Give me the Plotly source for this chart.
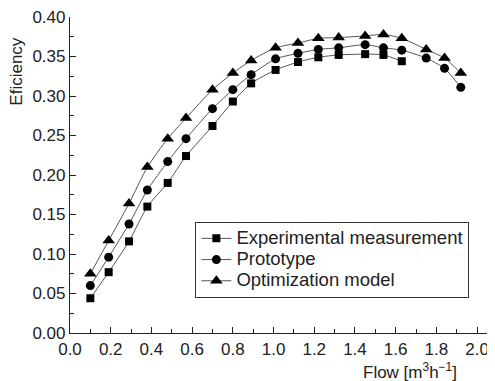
import plotly.graph_objects as go

# Data
flow_exp = [0.10, 0.19, 0.29, 0.38, 0.48, 0.57, 0.70, 0.80, 0.89, 1.01, 1.12, 1.22, 1.32, 1.45, 1.54, 1.63]
eff_exp = [0.044, 0.077, 0.116, 0.160, 0.190, 0.224, 0.262, 0.293, 0.316, 0.333, 0.343, 0.349, 0.352, 0.353, 0.352, 0.344]

flow_proto = [0.10, 0.19, 0.29, 0.38, 0.48, 0.57, 0.70, 0.80, 0.89, 1.01, 1.12, 1.22, 1.32, 1.45, 1.54, 1.63, 1.75, 1.84, 1.92]
eff_proto = [0.060, 0.096, 0.138, 0.181, 0.217, 0.246, 0.284, 0.308, 0.327, 0.347, 0.354, 0.359, 0.361, 0.365, 0.361, 0.358, 0.348, 0.335, 0.311]

flow_opt = [0.10, 0.19, 0.29, 0.38, 0.48, 0.57, 0.70, 0.80, 0.89, 1.01, 1.12, 1.22, 1.32, 1.45, 1.54, 1.63, 1.75, 1.84, 1.92]
eff_opt = [0.075, 0.117, 0.164, 0.210, 0.246, 0.272, 0.308, 0.329, 0.345, 0.361, 0.367, 0.373, 0.374, 0.376, 0.378, 0.373, 0.359, 0.348, 0.329]

series_names = ["Experimental measurement", "Prototype", "Optimization model"]

FONT = "Liberation Sans, Arial, sans-serif"
line_style = dict(color="#555555", width=1, shape="spline", smoothing=0.6)


def legend_label(s):
    return '<span style="font-size:18.5px">' + s + '</span>'


fig = go.Figure()
fig.add_trace(go.Scatter(x=flow_exp, y=eff_exp, mode="lines+markers", name=legend_label(series_names[0]),
                         line=line_style, marker=dict(symbol="square", size=8, color="black")))
fig.add_trace(go.Scatter(x=flow_proto, y=eff_proto, mode="lines+markers", name=legend_label(series_names[1]),
                         line=line_style, marker=dict(symbol="circle", size=9, color="black")))
fig.add_trace(go.Scatter(x=flow_opt, y=eff_opt, mode="lines+markers", name=legend_label(series_names[2]),
                         line=line_style, marker=dict(symbol="triangle-up", size=11, color="black")))

# The page body has an 8px margin, so the figure is sized to fit the 495x381 window.
fig.update_layout(
    width=487, height=373,
    margin=dict(l=62, r=0, t=7, b=48),
    paper_bgcolor="white", plot_bgcolor="white",
    font=dict(family=FONT, size=17, color="#222222"),
    showlegend=True,
    legend=dict(x=0.295, y=0.352, xanchor="left", yanchor="top",
                bordercolor="#333333", borderwidth=1, bgcolor="white",
                font=dict(size=14, color="#222222"), tracegroupgap=0,
                itemwidth=30),
    xaxis=dict(range=[0, 2.088], tick0=0, dtick=0.2, tickformat=".1f",
               ticks="inside", ticklen=6, tickwidth=1, tickcolor="#222222",
               showline=True, linecolor="#222222", linewidth=1.2,
               showgrid=False, zeroline=False, ticklabeloverflow="allow",
               minor=dict(dtick=0.1, ticks="inside", ticklen=4, tickcolor="#222222", showgrid=False)),
    yaxis=dict(range=[0, 0.40], tick0=0, dtick=0.05, tickformat=".2f",
               ticks="inside", ticklen=6, tickwidth=1, tickcolor="#222222",
               showline=True, linecolor="#222222", linewidth=1.2,
               showgrid=False, zeroline=False, ticklabeloverflow="allow",
               minor=dict(dtick=0.025, ticks="inside", ticklen=4, tickcolor="#222222", showgrid=False)),
    annotations=[
        dict(text="Eficiency", xref="paper", yref="paper", x=0, y=0.827, xshift=-53,
             textangle=-90, showarrow=False, xanchor="center", yanchor="middle",
             font=dict(size=17, color="#222222")),
        dict(text="Flow [m<sup>3</sup>h<sup>\u22121</sup>]", xref="paper", yref="paper",
             x=0.8, y=0, yshift=-38, showarrow=False, xanchor="center", yanchor="middle",
             font=dict(size=17, color="#222222")),
    ],
)

fig.write_html("out.html")
